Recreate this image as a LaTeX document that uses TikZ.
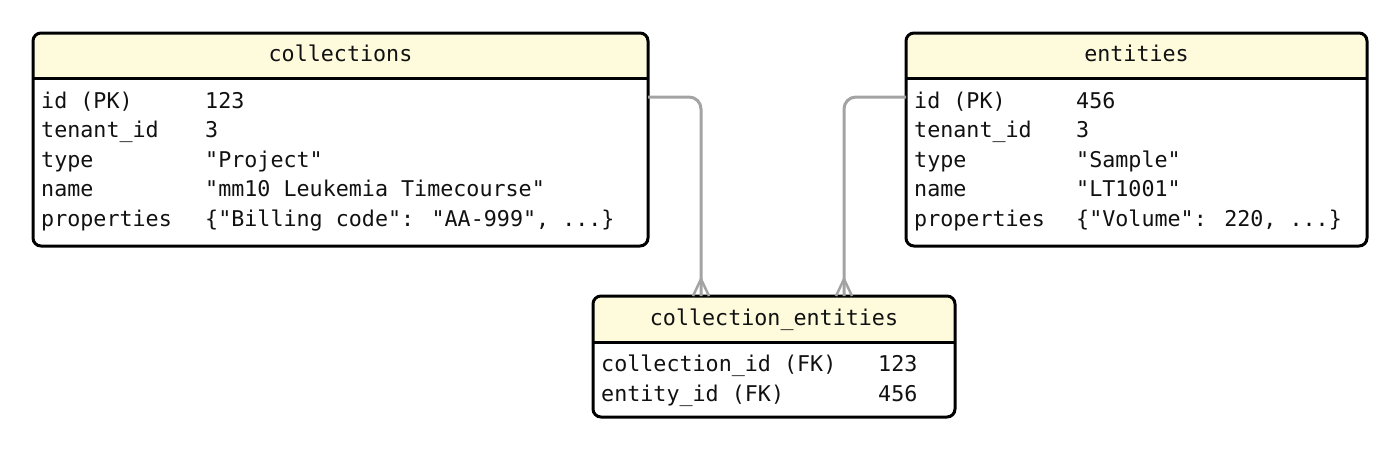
\documentclass[tikz,border=0pt]{standalone}
\usepackage{fontspec}
\newfontfamily\dmono{DejaVu Sans Mono}
\usetikzlibrary{backgrounds,calc}
\definecolor{hdrc}{HTML}{FEFADC}
\definecolor{linkc}{HTML}{A3A3A3}
\definecolor{inkc}{HTML}{111111}
\tikzset{
  tbl/.style={draw=black, line width=3pt, rounded corners=8pt, inner sep=0pt, outer sep=0pt, anchor=north west},
  txt/.style={inner sep=0pt, anchor=base west, text=inkc, font=\dmono\fontsize{21.7}{26}\selectfont},
  ttl/.style={txt, anchor=base},
  hline/.style={line width=3pt, draw=black},
  link/.style={draw=linkc, line width=3pt, rounded corners=12pt},
  foot/.style={draw=linkc, line width=2.5pt},
  hdr/.style={fill=hdrc},
}
\begin{document}
\begin{tikzpicture}[x=1pt,y=-1pt]
\useasboundingbox (0,0) rectangle (1400,451);

% tables
\node[tbl, minimum width=615pt, minimum height=213pt] (coll) at (33,33) {};
\node[tbl, minimum width=461pt, minimum height=213pt] (ent) at (906,33) {};
\node[tbl, minimum width=362pt, minimum height=121pt] (ce) at (593,296) {};

\coordinate (hA) at (0,78);
\coordinate (hB) at (0,342);

% header fills
\begin{scope}[on background layer]
  \begin{scope}
    \clip[rounded corners=8pt] (coll.north west) rectangle (coll.south east);
    \fill[hdr] (coll.north west) rectangle (coll.east |- hA);
  \end{scope}
  \begin{scope}
    \clip[rounded corners=8pt] (ent.north west) rectangle (ent.south east);
    \fill[hdr] (ent.north west) rectangle (ent.east |- hA);
  \end{scope}
  \begin{scope}
    \clip[rounded corners=8pt] (ce.north west) rectangle (ce.south east);
    \fill[hdr] (ce.north west) rectangle (ce.east |- hB);
  \end{scope}
\end{scope}

% header separators
\draw[hline] (coll.west |- hA) -- (coll.east |- hA);
\draw[hline] (ent.west |- hA) -- (ent.east |- hA);
\draw[hline] (ce.west |- hB) -- (ce.east |- hB);

% titles
\node[ttl] (collT) at (340.5,61.5) {collections};
\node[ttl] (entT) at (1136.5,61.5) {entities};
\node[ttl] (ceT) at (774,325.5) {collection\_entities};

% collections rows
\node[txt] (c1a) at (41,108) {id (PK)};
\node[txt] (c1b) at (205,108) {123};
\node[txt] (c2a) at (41,137.5) {tenant\_id};
\node[txt] (c2b) at (205,137.5) {3};
\node[txt] (c3a) at (41,167) {type};
\node[txt] (c3b) at (205,167) {"Project"};
\node[txt] (c4a) at (41,196.5) {name};
\node[txt] (c4b) at (205,196.5) {"mm10 Leukemia Timecourse"};
\node[txt] (c5a) at (41,226) {properties};
\node[txt] (c5b) at (205,226) {\{"Billing code": "AA-999", ...\}};

% entities rows
\node[txt] (e1a) at (914,108) {id (PK)};
\node[txt] (e1b) at (1076,108) {456};
\node[txt] (e2a) at (914,137.5) {tenant\_id};
\node[txt] (e2b) at (1076,137.5) {3};
\node[txt] (e3a) at (914,167) {type};
\node[txt] (e3b) at (1076,167) {"Sample"};
\node[txt] (e4a) at (914,196.5) {name};
\node[txt] (e4b) at (1076,196.5) {"LT1001"};
\node[txt] (e5a) at (914,226) {properties};
\node[txt] (e5b) at (1076,226) {\{"Volume": 220, ...\}};

% collection_entities rows
\node[txt] (k1a) at (601,371.5) {collection\_id (FK)};
\node[txt] (k1b) at (878,371.5) {123};
\node[txt] (k2a) at (601,401) {entity\_id (FK)};
\node[txt] (k2b) at (878,401) {456};

% connectors
\coordinate (r1) at (0,97);
\coordinate (ceL) at ($(ce.north west)+(108,0)$);
\coordinate (ceR) at ($(ce.north west)+(251,0)$);
\draw[link] (coll.east |- r1) -| (ceL);
\draw[link] (ent.west |- r1) -| (ceR);
\draw[foot] ($(ceL)+(0,-17)$) -- ($(ceL)+(-8,0)$);
\draw[foot] ($(ceL)+(0,-17)$) -- ($(ceL)+(8,0)$);
\draw[foot] ($(ceR)+(0,-17)$) -- ($(ceR)+(-8,0)$);
\draw[foot] ($(ceR)+(0,-17)$) -- ($(ceR)+(8,0)$);
\end{tikzpicture}
\end{document}
